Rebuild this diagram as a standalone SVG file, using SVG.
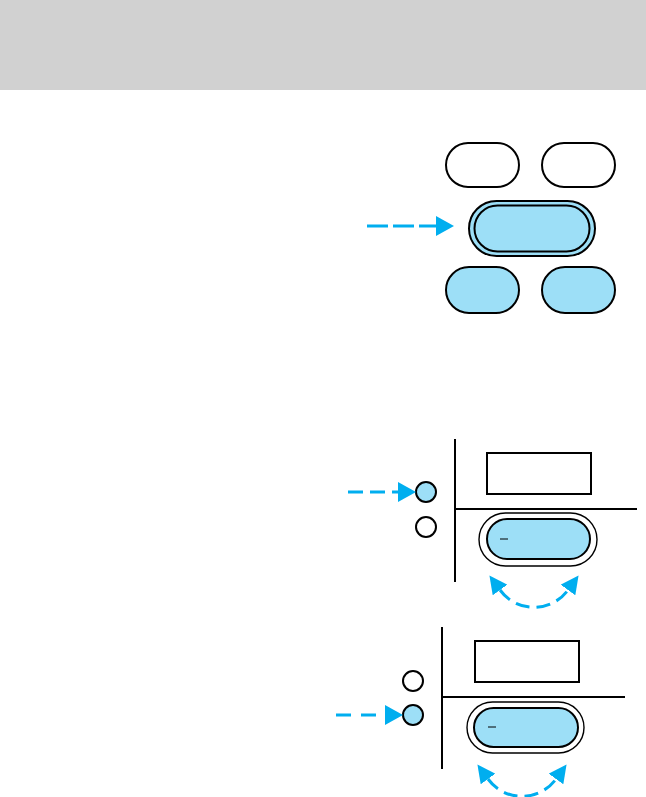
<svg xmlns="http://www.w3.org/2000/svg" width="646" height="797" viewBox="0 0 646 797">
<style>
.ol{fill:#fff;stroke:#000;stroke-width:2}
.bl{fill:#9ddff7;stroke:#000;stroke-width:2}
.thin{fill:none;stroke:#000;stroke-width:1.4}
.ln{fill:none;stroke:#000;stroke-width:2}
.ar{fill:none;stroke:#00aeef;stroke-width:3}
</style>
<defs>
<marker id="ah" viewBox="0 0 18 20" refX="0" refY="10" markerWidth="18" markerHeight="20" markerUnits="userSpaceOnUse" orient="auto-start-reverse"><path d="M0,0 L18,10 L0,20 z" fill="#00aeef"/></marker>
<marker id="ahs" viewBox="0 0 18 18" refX="0" refY="9" markerWidth="18" markerHeight="18" markerUnits="userSpaceOnUse" orient="auto-start-reverse"><path d="M0,0 L18,9 L0,18 z" fill="#00aeef"/></marker>
</defs>
<rect x="0" y="0" width="646" height="90" fill="#d1d1d1"/>
<g id="panel1">
<rect id="btn-tl" class="ol" x="446" y="143" width="73" height="44" rx="22"/>
<rect id="btn-tr" class="ol" x="542" y="143" width="73" height="44" rx="22"/>
<g id="btn-mid">
<rect class="bl" x="469" y="201" width="126" height="55" rx="27.5"/>
<rect class="bl" x="474.5" y="205.5" width="115" height="46" rx="23" stroke-width="1.5"/>
</g>
<rect id="btn-bl" class="bl" x="446" y="267" width="73" height="46" rx="23"/>
<rect id="btn-br" class="bl" x="542" y="267" width="73" height="46" rx="23"/>
</g>
<g id="panel2">
<line class="ln" x1="455" y1="439" x2="455" y2="582"/>
<line class="ln" x1="455" y1="509" x2="637" y2="509"/>
<rect id="disp2" class="ol" x="487" y="453" width="104" height="41"/>
<circle id="led2a" class="bl" cx="426" cy="492" r="10"/>
<circle id="led2b" class="ol" cx="426" cy="527" r="10"/>
<g id="knob2">
<rect class="thin" x="479" y="513" width="118" height="53" rx="26.5"/>
<rect class="bl" x="487" y="519" width="103" height="40" rx="20"/>
<line x1="500" y1="539" x2="508" y2="539" stroke="#000" stroke-width="1"/>
</g>
</g>
<g id="panel3">
<line class="ln" x1="442" y1="627" x2="442" y2="769"/>
<line class="ln" x1="442" y1="697" x2="625" y2="697"/>
<rect id="disp3" class="ol" x="475" y="641" width="104" height="41"/>
<circle id="led3a" class="ol" cx="413" cy="681" r="10"/>
<circle id="led3b" class="bl" cx="413" cy="715" r="10"/>
<g id="knob3">
<rect class="thin" x="467" y="702" width="117" height="51" rx="25.5"/>
<rect class="bl" x="474" y="708" width="104" height="39" rx="19.5"/>
<line x1="488" y1="727" x2="496" y2="727" stroke="#000" stroke-width="1"/>
</g>
</g>
<g id="connectors">
<line class="ar" x1="367" y1="226" x2="436" y2="226" stroke-dasharray="21 5" marker-end="url(#ah)"/>
<line class="ar" x1="348" y1="492" x2="398" y2="492" stroke-dasharray="15 7" marker-end="url(#ah)"/>
<line class="ar" x1="336" y1="715" x2="385" y2="715" stroke-dasharray="15 10" marker-end="url(#ah)"/>
<path class="ar" d="M500,590 A42,42 0 0 0 568,590" stroke-dasharray="14 7" marker-start="url(#ahs)" marker-end="url(#ahs)"/>
<path class="ar" d="M488,779 A42,42 0 0 0 556,779" stroke-dasharray="14 7" marker-start="url(#ahs)" marker-end="url(#ahs)"/>
</g>
</svg>
